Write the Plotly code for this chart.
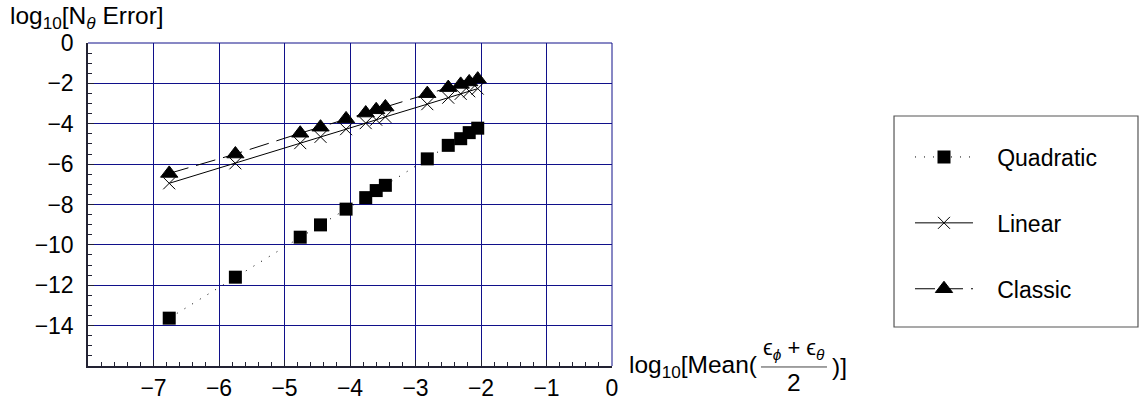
import plotly.graph_objects as go

# ---- data ----
x_vals = [-6.76, -5.75, -4.76, -4.45, -4.06, -3.76, -3.60, -3.46, -2.82, -2.50, -2.31, -2.18, -2.05]
quadratic = [-13.63, -11.60, -9.62, -9.01, -8.23, -7.66, -7.31, -7.05, -5.74, -5.07, -4.74, -4.44, -4.22]
linear = [-6.95, -5.96, -4.96, -4.65, -4.27, -3.97, -3.80, -3.66, -3.03, -2.71, -2.52, -2.39, -2.26]
classic = [-6.46, -5.50, -4.47, -4.17, -3.76, -3.47, -3.31, -3.17, -2.51, -2.21, -2.05, -1.93, -1.79]
series_names = ["Quadratic", "Linear", "Classic"]

FONT = "Liberation Sans, Arial, sans-serif"
FS = 23
NAVY = "#10108a"
PAD = "\u00a0\u00a0\u00a0"

fig = go.Figure()
fig.add_trace(go.Scatter(
    x=x_vals, y=quadratic, name=PAD + series_names[0], mode="lines+markers",
    line=dict(color="black", width=1, dash="1px,8px"),
    marker=dict(symbol="square", size=13, color="black"),
    legendgroup="q"))
fig.add_trace(go.Scatter(
    x=x_vals, y=linear, name=PAD + series_names[1], mode="lines+markers",
    line=dict(color="black", width=1),
    marker=dict(symbol="x-thin", size=12, color="black", line=dict(color="black", width=1)),
    legendgroup="l"))
fig.add_trace(go.Scatter(
    x=x_vals, y=classic, name=PAD + series_names[2], mode="lines+markers",
    line=dict(color="black", width=1, dash="20px,8px"),
    marker=dict(symbol="triangle-up", size=15, color="black", line=dict(color="black", width=1)),
    legendgroup="c"))

axis_common = dict(
    showgrid=True, gridcolor=NAVY, gridwidth=1,
    zeroline=False, showline=True, linecolor="#222233", linewidth=1.5,
    ticks="inside", ticklen=6, tickcolor="#222233",
    tickfont=dict(family=FONT, size=FS, color="black"),
    automargin=False,
)

fig.update_xaxes(range=[-8, 0], dtick=1, tick0=0, labelalias={"\u22128": ""}, ticklabelstandoff=1,
                 minor=dict(dtick=0.2, tick0=0, ticks="inside", ticklen=4, tickcolor="#222233", showgrid=False),
                 **axis_common)
fig.update_yaxes(range=[-16, 0], dtick=2, tick0=0, labelalias={"\u221216": ""}, ticklabelstandoff=8,
                 minor=dict(dtick=0.5, tick0=0, ticks="inside", ticklen=4, tickcolor="#222233", showgrid=False),
                 **axis_common)

shapes = [
    # top and right plot borders (grid-coloured)
    dict(type="line", xref="paper", yref="paper", x0=0, x1=1, y0=1, y1=1, line=dict(color=NAVY, width=1)),
    dict(type="line", xref="paper", yref="paper", x0=1, x1=1, y0=0, y1=1, line=dict(color=NAVY, width=1)),
    # legend frame
    dict(type="rect", xref="paper", yref="paper", x0=1.5382, x1=2.0038, y0=0.1207, y1=0.774,
         line=dict(color="#555555", width=1.2), fillcolor="rgba(0,0,0,0)"),
    # fraction bar in the x-axis title
    dict(type="line", xref="paper", yref="paper", x0=1.2843, x1=1.4103, y0=-0.003, y1=-0.003,
         line=dict(color="#444444", width=1)),
]

tfont = dict(family=FONT, size=24.5, color="black")
nfont = dict(family=FONT, size=22, color="black")
annotations = [
    dict(text="log<sub>10</sub>[N<sub><i>θ</i></sub> Error]", xref="paper", yref="paper",
         x=-0.1527, y=1.078, xanchor="left", yanchor="middle", showarrow=False, font=tfont),
    dict(text="log<sub>10</sub>[Mean(", xref="paper", yref="paper",
         x=1.0285, y=-0.003, xanchor="left", yanchor="middle", showarrow=False, font=tfont),
    dict(text="ϵ<sub><i>ϕ</i></sub> + ϵ<sub><i>θ</i></sub>", xref="paper", yref="paper",
         x=1.3473, y=0.052, xanchor="center", yanchor="middle", showarrow=False, font=nfont),
    dict(text="2", xref="paper", yref="paper",
         x=1.3473, y=-0.05, xanchor="center", yanchor="middle", showarrow=False, font=tfont),
    dict(text=")]", xref="paper", yref="paper",
         x=1.416, y=-0.003, xanchor="left", yanchor="middle", showarrow=False, font=tfont),
]

fig.update_layout(
    width=1148, height=404,
    margin=dict(l=88, r=536, t=43, b=38, autoexpand=False),
    paper_bgcolor="white", plot_bgcolor="white",
    font=dict(family=FONT, size=FS, color="black"),
    showlegend=True,
    legend=dict(x=1.5687, y=0.7136, xanchor="left", yanchor="top",
                bgcolor="rgba(0,0,0,0)", borderwidth=0,
                itemwidth=58, tracegroupgap=33,
                font=dict(family=FONT, size=FS, color="black")),
    shapes=shapes, annotations=annotations,
)

fig.write_html("out.html")
